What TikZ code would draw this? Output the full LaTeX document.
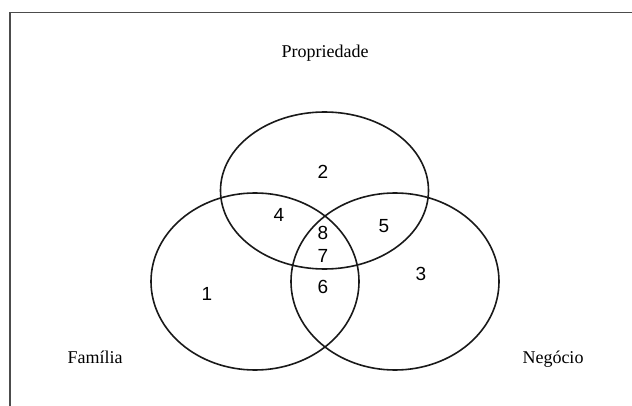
\documentclass[tikz,border=0pt]{standalone}
\usepackage{fontspec}
\setmainfont{Liberation Serif}
\newfontfamily\numfont{Liberation Sans}
\begin{document}
\begin{tikzpicture}[x=1pt,y=-1pt,
  setline/.style={line width=1.6pt,draw=black!90},
  framel/.style={line width=1.5pt,draw=black!70},
  setlabel/.style={font=\fontsize{18}{20}\selectfont,inner sep=0pt,anchor=base},
  region/.style={font=\numfont\fontsize{19}{21}\selectfont,inner sep=0pt}]
\useasboundingbox (0,0) rectangle (632,406);
\coordinate (fa) at (10,406);
\coordinate (fb) at (10,12.5);
\coordinate (fc) at (632,12.5);
\draw[framel] (fa) -- (fb) -- (fc);
\draw[setline] (324.5,190.5) ellipse [x radius=104, y radius=78.5];
\draw[setline] (255,281.5) ellipse [x radius=104, y radius=88.5];
\draw[setline] (395,281.5) ellipse [x radius=104, y radius=88.5];
\node[setlabel] (prop) at (325,58) {Propriedade};
\node[setlabel] (fam) at (95,363) {Família};
\node[setlabel] (neg) at (553,363) {Negócio};
\node[region] (r2) at (323,172) {2};
\node[region] (r4) at (279,215) {4};
\node[region] (r8) at (323,233) {8};
\node[region] (r5) at (384,226) {5};
\node[region] (r7) at (323,256) {7};
\node[region] (r3) at (421,274) {3};
\node[region] (r1) at (207,294) {1};
\node[region] (r6) at (323,287) {6};
\end{tikzpicture}
\end{document}
